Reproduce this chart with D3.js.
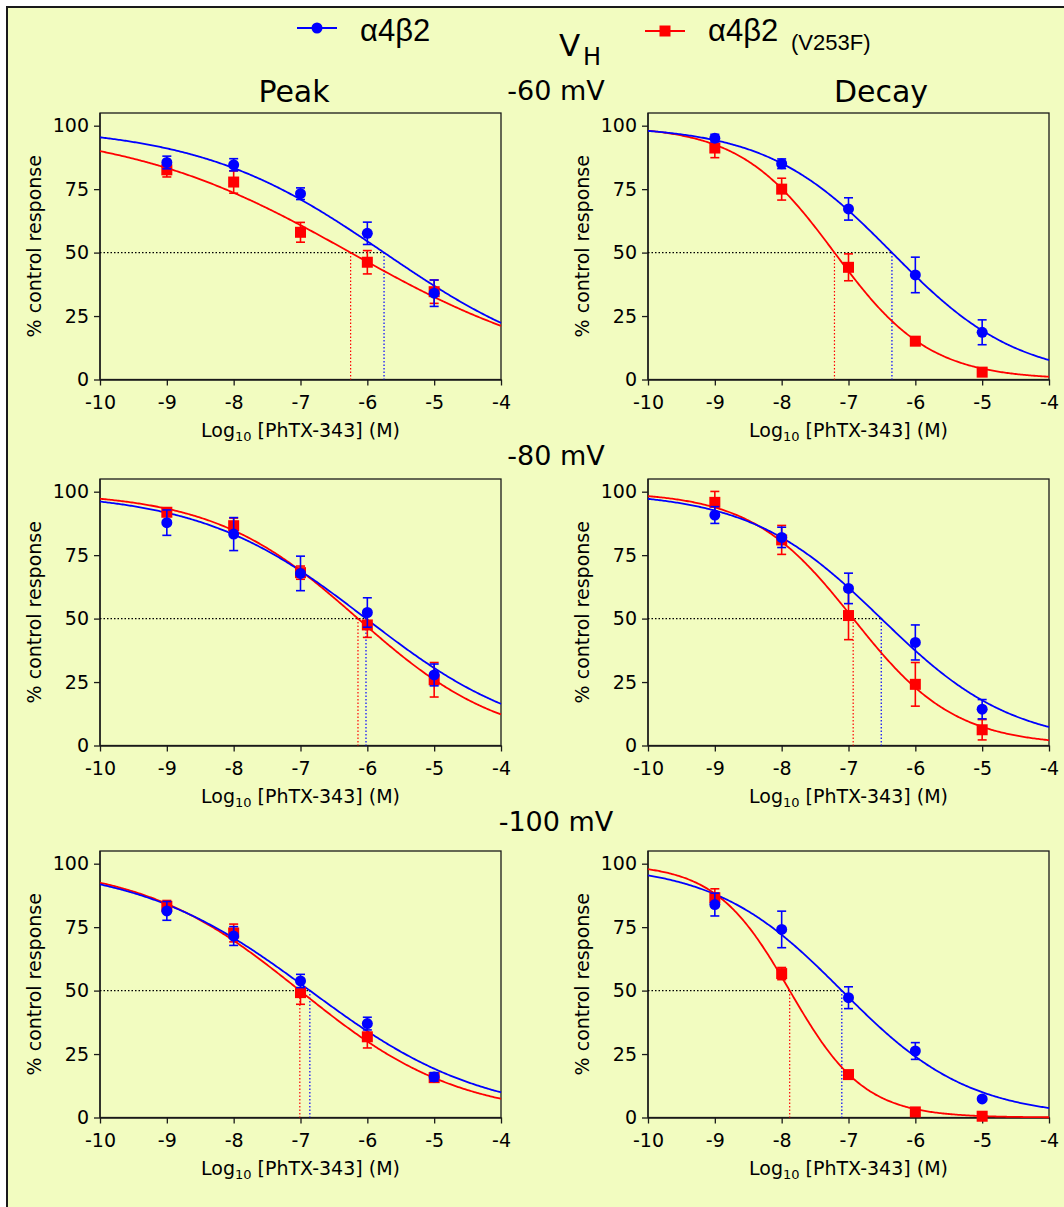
<!DOCTYPE html>
<html>
<head>
<meta charset="utf-8">
<script src="https://cdn.jsdelivr.net/npm/d3@7"></script>
<style>
  body { margin: 0; background: #ffffff; }
  svg { display: block; }
</style>
</head>
<body>
<div id="container"></div>
<script>

// log10 doses where responses were measured
const doses = [-9, -8, -7, -6, -5];
const xTicks = [-10, -9, -8, -7, -6, -5, -4];
const yTicks = [0, 25, 50, 75, 100];
const voltages = ["-60 mV", "-80 mV", "-100 mV"];
const measures = ["Peak", "Decay"];
const seriesNames = ["α4β2", "α4β2", "(V253F)"];

// one row per panel: Peak -60, Decay -60, Peak -80, Decay -80, Peak -100, Decay -100
const wtMean = [
    [85.5, 84.6, 73.2, 57.6, 34.0],
    [95.1, 85.0, 67.2, 41.2, 18.6],
    [87.8, 83.3, 67.8, 52.4, 27.8],
    [90.8, 82.0, 61.9, 40.6, 14.3],
    [81.4, 71.5, 53.8, 37.0, 16.0],
    [83.9, 74.1, 47.2, 26.2, 7.3]
];
const wtSem = [
    [2.5, 2.4, 2.3, 4.4, 5.2],
    [1.5, 1.9, 4.4, 7.0, 4.9],
    [5.0, 6.5, 6.8, 5.8, 4.3],
    [3.3, 4.0, 6.0, 6.9, 3.8],
    [3.7, 3.7, 2.6, 2.5, 1.7],
    [4.5, 7.2, 4.3, 3.3, 0.5]
];
const mutMean = [
    [82.6, 77.8, 58.0, 46.2, 34.6],
    [91.2, 75.0, 44.2, 15.1, 2.9],
    [91.9, 86.6, 68.1, 47.5, 25.9],
    [95.8, 81.0, 51.2, 24.1, 6.2],
    [83.2, 72.7, 49.2, 31.8, 15.7],
    [86.6, 56.7, 16.9, 2.2, 0.5]
];
const mutSem = [
    [2.8, 4.4, 3.9, 4.6, 4.6],
    [3.8, 4.3, 5.3, 1.0, 0.5],
    [1.6, 3.0, 2.6, 4.9, 6.8],
    [4.3, 5.7, 9.5, 8.6, 4.0],
    [2.3, 3.5, 4.6, 4.4, 1.6],
    [3.5, 2.4, 1.0, 0.5, 0.3]
];

// fitted log IC50 and Hill slope (top 100, bottom 0)
const wtLogIC50 = [-5.75, -6.35, -6.02, -6.51, -6.86, -7.10];
const wtHill = [0.31, 0.46, 0.35, 0.44, 0.335, 0.455];
const mutLogIC50 = [-6.25, -7.21, -6.14, -6.93, -7.01, -7.88];
const mutHill = [0.254, 0.61, 0.40, 0.57, 0.365, 0.78];

function main() {

    const svgWidth = 1064;
    const svgHeight = 1207;
    const bg = "#f2fcc0";
    const blue = "#0000ff";
    const red = "#ff0000";
    const numFont = "DejaVu Sans, Verdana, sans-serif";

    const colLeft = [100, 648];
    const plotWidth = 401;
    const rowBottom = [379.5, 745.5, 1117.5];
    const plotHeight = 266.5;   // height for 0..105

    const svg = d3.select("#container")
        .append("svg")
        .attr("width", svgWidth)
        .attr("height", svgHeight);

    svg.append("rect")
        .attr("x", 7).attr("y", 7)
        .attr("width", svgWidth + 20).attr("height", svgHeight + 20)
        .attr("fill", bg)
        .attr("stroke", "#1a1a1a")
        .attr("stroke-width", 2);

    // legend
    const legend = [
        {name: seriesNames[0], color: blue, shape: "circle", x: 297, y: 28},
        {name: seriesNames[1], color: red, shape: "square", x: 645, y: 31}
    ];
    legend.forEach(l => {
        const g = svg.append("g");
        g.append("line")
            .attr("x1", l.x).attr("x2", l.x + 40)
            .attr("y1", l.y).attr("y2", l.y)
            .attr("stroke", l.color).attr("stroke-width", 2);
        if (l.shape === "circle") {
            g.append("circle").attr("cx", l.x + 20).attr("cy", l.y).attr("r", 5.5).attr("fill", l.color);
        } else {
            g.append("rect").attr("x", l.x + 14.5).attr("y", l.y - 5.5)
                .attr("width", 11).attr("height", 11).attr("fill", l.color);
        }
        const t = g.append("text")
            .attr("x", l.x + 63).attr("y", 41)
            .style("font-family", "Liberation Sans, Arial, sans-serif")
            .style("font-size", "31px")
            .text(l.name);
        if (l.shape === "square") {
            t.append("tspan")
                .attr("x", 791).attr("y", 50)
                .style("font-size", "22px")
                .text(seriesNames[2]);
        }
    });

    // V_H
    const vh = svg.append("text")
        .attr("x", 559).attr("y", 56)
        .style("font-family", numFont)
        .style("font-size", "31px")
        .text("V");
    vh.append("tspan").attr("x", 583).attr("y", 65).style("font-size", "24px").text("H");

    // column titles
    [294, 881].forEach((cx, i) => {
        svg.append("text")
            .attr("x", cx).attr("y", 102)
            .attr("text-anchor", "middle")
            .style("font-family", numFont)
            .style("font-size", "30px")
            .text(measures[i]);
    });

    // voltage titles
    const vTitleY = [100, 465, 831];
    voltages.forEach((v, i) => {
        svg.append("text")
            .attr("x", 556).attr("y", vTitleY[i])
            .attr("text-anchor", "middle")
            .style("font-family", numFont)
            .style("font-size", "27px")
            .text(v);
    });

    const curveX = d3.range(-10, -3.999, 0.02);
    const hill = (x, logIC50, h) => 100 / (1 + Math.pow(10, (x - logIC50) * h));

    for (let p = 0; p < 6; p++) {
        const row = Math.floor(p / 2);
        const col = p % 2;

        const xScale = d3.scaleLinear()
            .domain([-10, -4])
            .range([colLeft[col], colLeft[col] + plotWidth]);
        const yScale = d3.scaleLinear()
            .domain([0, 105])
            .range([rowBottom[row], rowBottom[row] - plotHeight]);

        const g = svg.append("g");

        // frame
        g.append("rect")
            .attr("x", xScale(-10)).attr("y", yScale(105))
            .attr("width", xScale(-4) - xScale(-10))
            .attr("height", yScale(0) - yScale(105))
            .attr("fill", "none")
            .attr("stroke", "#1a1a1a")
            .attr("stroke-width", 1.3);

        const xAxis = g.append("g")
            .attr("transform", `translate(0,${yScale(0)})`)
            .call(d3.axisBottom(xScale)
                .tickValues(xTicks)
                .tickSize(6)
                .tickSizeOuter(0)
                .tickPadding(10)
                .tickFormat(d => String(d)));
        const yAxis = g.append("g")
            .attr("transform", `translate(${xScale(-10)},0)`)
            .call(d3.axisLeft(yScale)
                .tickValues(yTicks)
                .tickSize(6)
                .tickSizeOuter(0)
                .tickPadding(5)
                .tickFormat(d => String(d)));
        [xAxis, yAxis].forEach(a => {
            a.attr("font-family", null).attr("font-size", null);
            a.selectAll("path, line").attr("stroke", "#1a1a1a").attr("stroke-width", 1.3);
            a.selectAll("text")
                .attr("fill", "#000")
                .style("font-family", numFont)
                .style("font-size", "19px");
        });
        yAxis.select(".domain").attr("d", `M0,${yScale(0)}V${yScale(105)}`);

        // axis titles
        const xt = g.append("text")
            .attr("x", (xScale(-10) + xScale(-4)) / 2)
            .attr("y", yScale(0) + 57.5)
            .attr("text-anchor", "middle")
            .style("font-family", numFont)
            .style("font-size", "19px");
        xt.append("tspan").text("Log");
        xt.append("tspan").attr("dy", 4).style("font-size", "13px").text("10");
        xt.append("tspan").attr("dy", -4).text(" [PhTX-343] (M)");

        g.append("text")
            .attr("transform", `translate(${xScale(-10) - 59},${(yScale(0) + yScale(105)) / 2}) rotate(-90)`)
            .attr("text-anchor", "middle")
            .style("font-family", numFont)
            .style("font-size", "19px")
            .text("% control response");

        const series = [
            {mean: mutMean[p], sem: mutSem[p], ic: mutLogIC50[p], h: mutHill[p], color: red, shape: "square"},
            {mean: wtMean[p], sem: wtSem[p], ic: wtLogIC50[p], h: wtHill[p], color: blue, shape: "circle"}
        ];

        // IC50 guide lines
        const maxIC = d3.max(series, s => s.ic);
        g.append("line")
            .attr("x1", xScale(-10)).attr("x2", xScale(maxIC))
            .attr("y1", yScale(50)).attr("y2", yScale(50))
            .attr("stroke", "#000").attr("stroke-width", 1.2)
            .attr("stroke-dasharray", "1.5,2");
        series.forEach(s => {
            g.append("line")
                .attr("x1", xScale(s.ic)).attr("x2", xScale(s.ic))
                .attr("y1", yScale(50)).attr("y2", yScale(0))
                .attr("stroke", s.color).attr("stroke-width", 1.2)
                .attr("stroke-dasharray", "1.5,2");
        });

        // fitted curves
        series.forEach(s => {
            g.append("path")
                .datum(curveX)
                .attr("fill", "none")
                .attr("stroke", s.color)
                .attr("stroke-width", 1.8)
                .attr("d", d3.line()
                    .x(d => xScale(d))
                    .y(d => yScale(hill(d, s.ic, s.h))));
        });

        // points with error bars
        series.forEach(s => {
            const pts = doses.map((d, i) => ({x: d, y: s.mean[i], e: s.sem[i]}));
            const eb = g.append("g").attr("stroke", s.color).attr("stroke-width", 1.6);
            pts.forEach(pt => {
                eb.append("line")
                    .attr("x1", xScale(pt.x)).attr("x2", xScale(pt.x))
                    .attr("y1", yScale(pt.y - pt.e)).attr("y2", yScale(pt.y + pt.e));
                [pt.y - pt.e, pt.y + pt.e].forEach(v => {
                    eb.append("line")
                        .attr("x1", xScale(pt.x) - 4.5).attr("x2", xScale(pt.x) + 4.5)
                        .attr("y1", yScale(v)).attr("y2", yScale(v));
                });
            });
            if (s.shape === "circle") {
                g.selectAll(null).data(pts).enter().append("circle")
                    .attr("cx", d => xScale(d.x))
                    .attr("cy", d => yScale(d.y))
                    .attr("r", 5.5)
                    .attr("fill", s.color);
            } else {
                g.selectAll(null).data(pts).enter().append("rect")
                    .attr("x", d => xScale(d.x) - 5.5)
                    .attr("y", d => yScale(d.y) - 5.5)
                    .attr("width", 11).attr("height", 11)
                    .attr("fill", s.color);
            }
        });
    }
}

main();
</script>
</body>
</html>
